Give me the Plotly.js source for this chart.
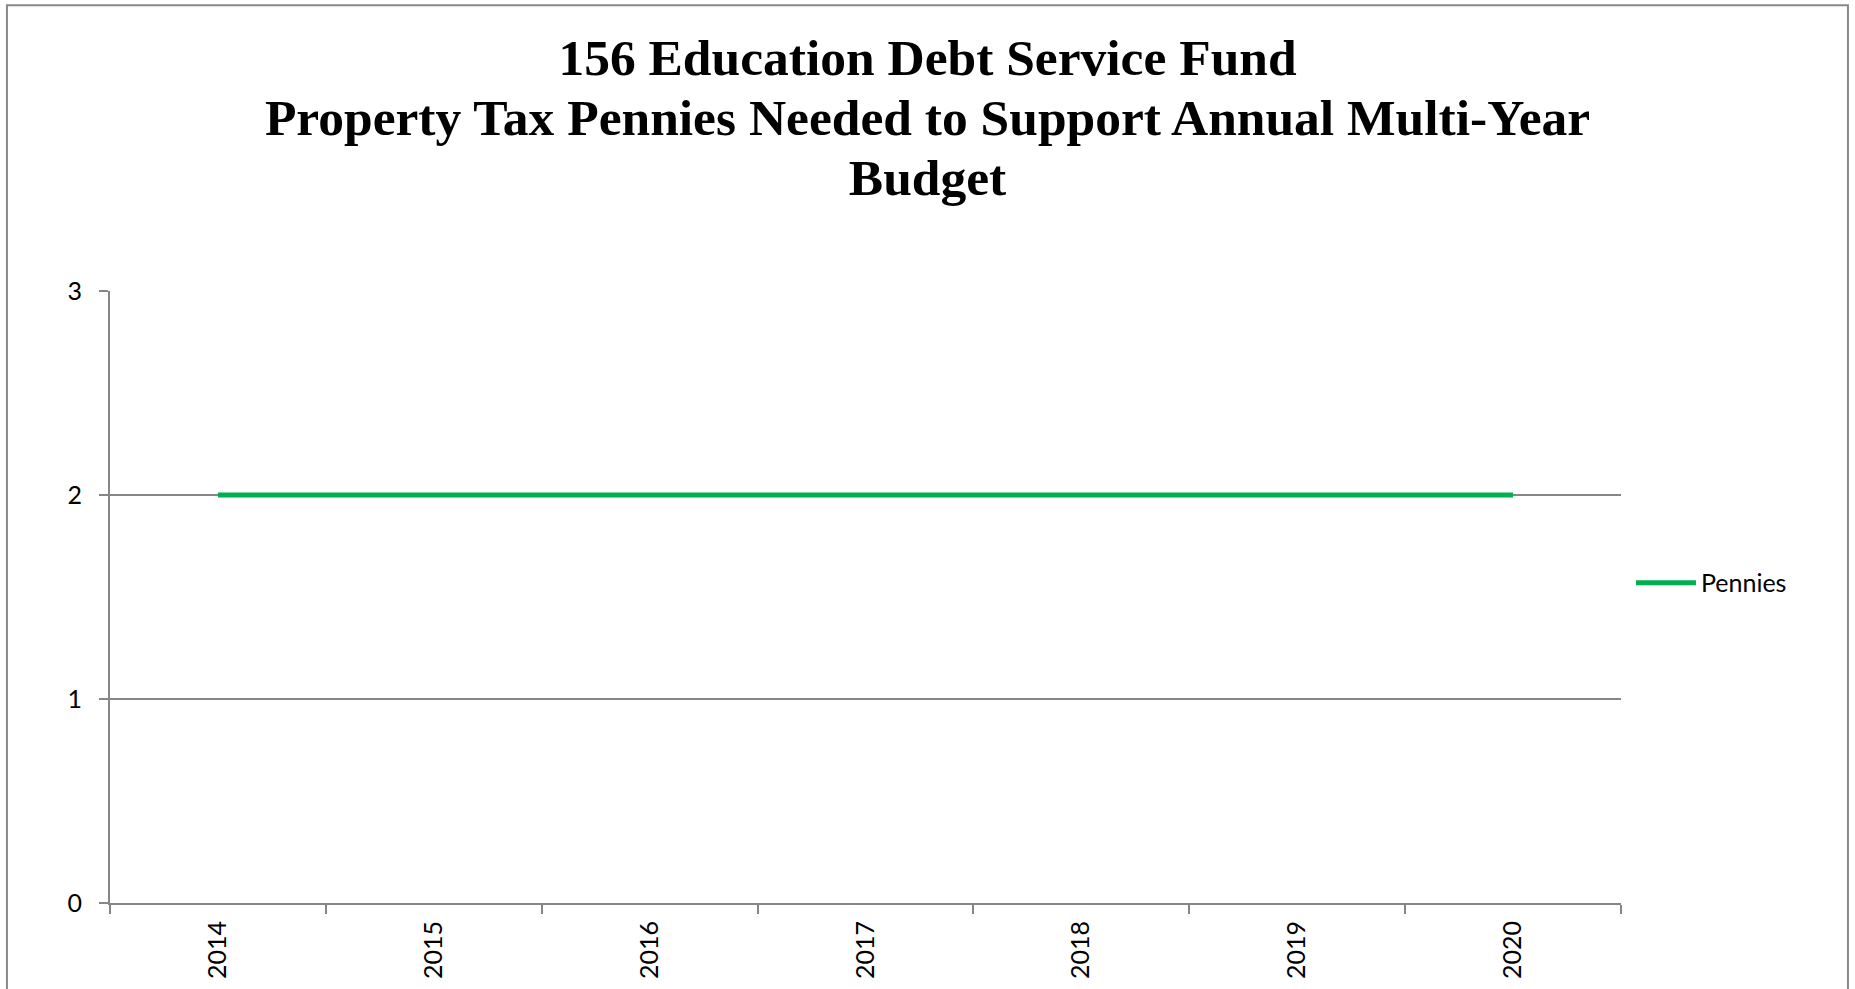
<!DOCTYPE html>
<html>
<head>
<meta charset="utf-8">
<script src="https://cdn.plot.ly/plotly-3.0.1.min.js"></script>
<style>
html, body { margin: 0; padding: 0; background: #ffffff; }
#chart { width: 1855px; height: 989px; }
</style>
</head>
<body>
<div id="chart"></div>
<script>
const years = ['2014', '2015', '2016', '2017', '2018', '2019', '2020'];
const pennies = [2, 2, 2, 2, 2, 2, 2];
const seriesName = 'Pennies';
const yTicks = [0, 1, 2, 3];
const titleLines = ['156 Education Debt Service Fund', 'Property Tax Pennies Needed to Support Annual Multi-Year', 'Budget'];

const gray = '#868686';

const trace = {
  x: years,
  y: pennies,
  type: 'scatter',
  mode: 'lines',
  name: seriesName,
  line: { color: '#00B050', width: 5 },
  showlegend: true
};

const titleText = titleLines.map(function (t) {
  return '<span style="font-size:51.5px">' + t + '</span>';
}).join('<br>');

const layout = {
  width: 1855,
  height: 989,
  paper_bgcolor: '#ffffff',
  plot_bgcolor: '#ffffff',
  margin: { l: 110, r: 234, t: 291, b: 86 },
  font: { family: 'Lato, "Liberation Sans", sans-serif', size: 25, color: '#000000' },
  title: {
    text: titleText,
    font: { family: '"Liberation Serif", "Times New Roman", serif', size: 46, color: '#000000', weight: 'bold' },
    x: 0.5,
    xref: 'container',
    xanchor: 'center',
    y: 0.924,
    yref: 'container',
    yanchor: 'top'
  },
  xaxis: {
    type: 'category',
    categoryorder: 'array',
    categoryarray: years,
    range: [-0.5, years.length - 0.5],
    tickson: 'boundaries',
    ticks: 'outside',
    ticklen: 9,
    tickwidth: 2,
    tickcolor: gray,
    tickangle: -90,
    ticklabelstandoff: 6,
    showline: true,
    linecolor: gray,
    linewidth: 2,
    showgrid: false,
    zeroline: false,
    fixedrange: true
  },
  yaxis: {
    range: [0, 3],
    tickvals: yTicks,
    ticktext: yTicks.map(String),
    ticks: 'outside',
    ticklen: 9,
    tickwidth: 2,
    tickcolor: gray,
    ticklabelstandoff: 12,
    showline: true,
    linecolor: gray,
    linewidth: 2,
    showgrid: true,
    gridcolor: gray,
    gridwidth: 1.5,
    zeroline: false,
    fixedrange: true
  },
  showlegend: true,
  legend: {
    x: 1.0066,
    xanchor: 'left',
    y: 0.523,
    yanchor: 'middle',
    bgcolor: 'rgba(0,0,0,0)',
    borderwidth: 0,
    itemwidth: 60,
    font: { size: 25 }
  },
  shapes: [
    {
      type: 'rect',
      xref: 'paper', yref: 'paper',
      x0: -0.0682, x1: 1.1502,
      y0: -0.3, y1: 1.467,
      line: { color: '#898989', width: 2 },
      fillcolor: 'rgba(0,0,0,0)',
      layer: 'below'
    }
  ]
};

Plotly.newPlot('chart', [trace], layout, { displayModeBar: false, staticPlot: true });
</script>
</body>
</html>
